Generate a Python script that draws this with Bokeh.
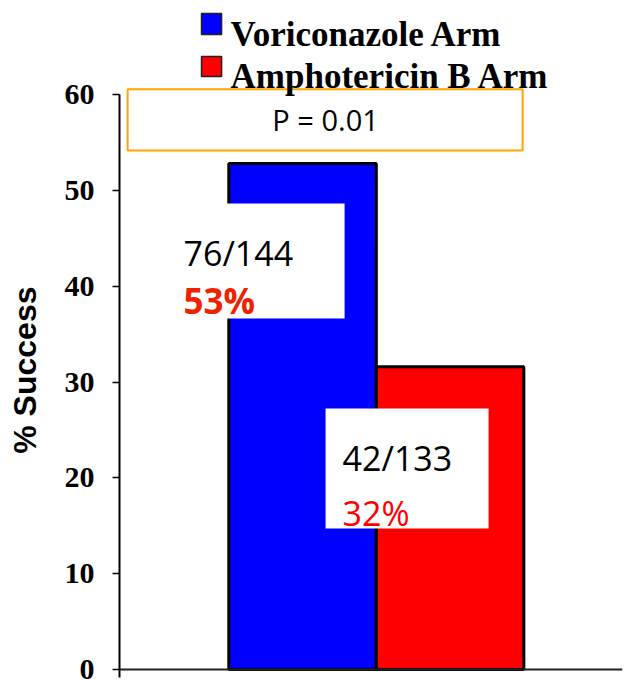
from bokeh.plotting import figure
from bokeh.models import Range1d, FixedTicker, Span
from bokeh.core.properties import value
from bokeh.embed import file_html
from bokeh.resources import INLINE

# ---- data ----
arms = ["Voriconazole Arm", "Amphotericin B Arm"]
success_pct = [52.8, 31.6]
successes = [76, 42]
totals = [144, 133]
pct_labels = ["53%", "32%"]
colors = ["#0000FF", "#FF0000"]
y_ticks = [0, 10, 20, 30, 40, 50, 60]
p_value_text = "P = 0.01"
y_title = "% Success"

# ---- figure ----
p = figure(width=624, height=680, output_backend="svg", toolbar_location=None,
           x_range=Range1d(-0.241, 3.169), y_range=Range1d(-0.835, 69.81),
           min_border_left=119, min_border_right=2, min_border_top=0,
           min_border_bottom=3, x_axis_location=None)
p.grid.visible = False
p.outline_line_color = None
p.background_fill_color = "white"

yax = p.yaxis[0]
yax.ticker = FixedTicker(ticks=y_ticks)
yax.bounds = (-0.835, 60)
yax.axis_line_width = 2
yax.axis_line_color = "black"
yax.major_tick_out = 7
yax.major_tick_in = 0
yax.major_tick_line_width = 1.5
yax.minor_tick_out = 0
yax.minor_tick_in = 0
yax.major_label_standoff = 18
yax.major_label_text_font = "Liberation Serif"
yax.major_label_text_font_style = "bold"
yax.major_label_text_font_size = "30px"
yax.major_label_text_color = "black"
# trailing no-break spaces shift the centred title down to match the reference
yax.axis_label = y_title + "\u00a0" * 7
yax.axis_label_text_font = "Liberation Sans"
yax.axis_label_text_font_style = "bold"
yax.axis_label_text_font_size = "32px"
yax.axis_label_text_color = "black"
yax.axis_label_standoff = 19

# bars
for i, (val, col) in enumerate(zip(success_pct, colors)):
    p.vbar(x=[1 + i], top=[val], bottom=0, width=1.0, fill_color=col,
           line_color="black", line_width=3)

# baseline
p.add_layout(Span(location=0, dimension="width", line_color="#222222", line_width=2))

# P-value box
p.quad(left=[-0.186], right=[2.492], bottom=[54.16], top=[60.55],
       fill_color="white", line_color="#FFA500", line_width=2)
p.text(x=[1.156], y=[57.35], text=[p_value_text], text_font=value("Open Sans"),
       text_font_size="29px", text_align="center", text_baseline="middle",
       text_color="black")

# count boxes
box_left = [0.071, 1.156]
box_right = [1.285, 2.261]
box_top = [48.63, 27.24]
box_bottom = [36.63, 14.71]
p.quad(left=box_left, right=box_right, top=box_top, bottom=box_bottom,
       fill_color="white", line_color=None)

count_text = [f"{s}/{t}" for s, t in zip(successes, totals)]
text_x = [0.193, 1.271]
p.text(x=text_x, y=[43.5, 22.12], text=count_text, text_font=value("Open Sans"),
       text_font_size="34px", text_baseline="alphabetic", text_color="black")
p.text(x=[text_x[0]], y=[38.5], text=[pct_labels[0]], text_font=value("Open Sans"),
       text_font_size="35px", text_font_style="bold", text_baseline="alphabetic",
       text_color="#EE2200")
p.text(x=[text_x[1]], y=[16.38], text=[pct_labels[1]], text_font=value("Open Sans"),
       text_font_size="34px", text_baseline="alphabetic", text_color="#FF0000")

# legend (drawn manually above the axis area)
leg_top = [68.45, 63.97]
leg_bottom = [66.26, 61.88]
leg_base = [66.26, 61.88]
p.quad(left=[0.315] * 2, right=[0.451] * 2, top=leg_top, bottom=leg_bottom,
       fill_color=colors, line_color="#222222", line_width=1.5)
p.text(x=[0.512] * 2, y=leg_base, text=arms, text_font=value("Liberation Serif"),
       text_font_size="35px", text_font_style="bold", text_baseline="alphabetic",
       text_color="black")

open("out.html", "w").write(file_html(p, INLINE))
